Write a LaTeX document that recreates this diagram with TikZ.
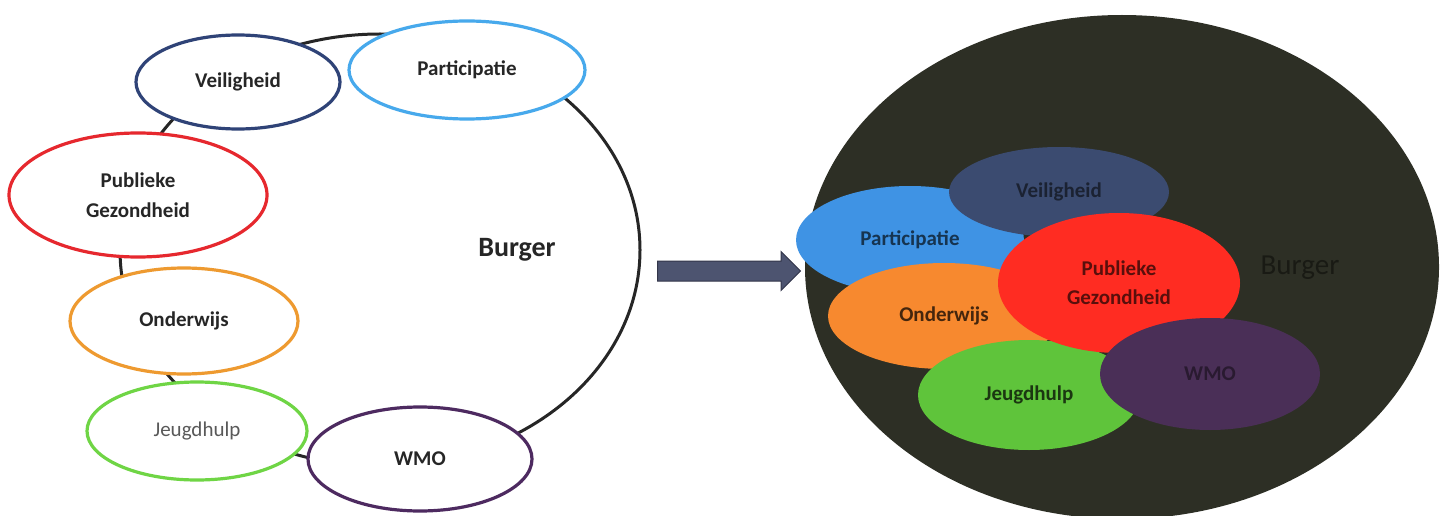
\documentclass[tikz,border=0pt]{standalone}
\usepackage{fontspec}
\setmainfont{Carlito}
\usetikzlibrary{shapes.geometric,shapes.arrows}

\definecolor{veilig}{HTML}{2F4377}
\definecolor{partic}{HTML}{47A9EC}
\definecolor{gezond}{HTML}{E6282E}
\definecolor{onderw}{HTML}{EE9A30}
\definecolor{jeugd}{HTML}{6FD545}
\definecolor{wmo}{HTML}{4D2A60}
\definecolor{veiligfill}{HTML}{3B4B70}
\definecolor{particfill}{HTML}{3F93E4}
\definecolor{gezondfill}{HTML}{FF2C22}
\definecolor{onderwfill}{HTML}{F7892F}
\definecolor{jeugdfill}{HTML}{5FC43B}
\definecolor{wmofill}{HTML}{4A2F57}
\definecolor{burgerfill}{HTML}{2D2F25}
\definecolor{pijlfill}{HTML}{4D5470}
\definecolor{pijledge}{HTML}{33364A}

\tikzset{
  ring/.style={ellipse, draw=#1, line width=3.2pt, fill=white, inner sep=0pt, align=center,
    text=black!85, font=\fontsize{21}{30}\selectfont\bfseries},
  blob/.style={ellipse, fill=#1, inner sep=0pt, align=center,
    font=\fontsize{21}{29}\selectfont\bfseries}
}

\begin{document}
\begin{tikzpicture}[x=1pt, y=-1pt]
\useasboundingbox[fill=white] (0,0) rectangle (1447,516);

% left circle
\draw[line width=3pt, black!85] (380,250) ellipse [x radius=260, y radius=216];
\path (517,250) node[font=\fontsize{28}{32}\selectfont\bfseries, text=black!85] (burgerL) {Burger};

\node[ring=veilig, minimum width=204, minimum height=94] (veiligL) at (238,82) {Veiligheid};
\node[ring=partic, minimum width=236, minimum height=98] (particL) at (467,70) {Participatie};
\node[ring=gezond, minimum width=258, minimum height=124] (gezondL) at (138,195) {Publieke\\Gezondheid};
\node[ring=onderw, minimum width=228, minimum height=106] (onderwL) at (184,321) {Onderwijs};
\node[ring=jeugd, minimum width=220, minimum height=98, font=\fontsize{21}{30}\selectfont, text=black!65] (jeugdL) at (197,431) {Jeugdhulp};
\node[ring=wmo, minimum width=224, minimum height=104] (wmoL) at (420,459) {WMO};

% arrow
\node[single arrow, draw=pijledge, fill=pijlfill, line width=1pt, inner sep=9.5pt,
  single arrow head extend=9.5pt, minimum height=143, anchor=west] (pijl) at (657,271) {};

% right circle
\fill[burgerfill] (1122,267) ellipse [x radius=317, y radius=252];
\path (1300,268) node[font=\fontsize{29}{32}\selectfont, text=burgerfill!55!black] (burgerR) {Burger};

\node[blob=particfill, minimum width=228, minimum height=108, text=particfill!35!black] (particR) at (910,240) {Participatie};
\node[blob=veiligfill, minimum width=220, minimum height=90, text=veiligfill!45!black] (veiligR) at (1059,192) {Veiligheid};
\node[blob=onderwfill, minimum width=232, minimum height=106, text=onderwfill!28!black] (onderwR) at (944,316) {Onderwijs};
\node[blob=jeugdfill, minimum width=222, minimum height=110, text=jeugdfill!28!black] (jeugdR) at (1029,395) {Jeugdhulp};
\node[blob=gezondfill, minimum width=242, minimum height=140, text=gezondfill!35!black] (gezondR) at (1119,283) {Publieke\\Gezondheid};
\node[blob=wmofill, minimum width=220, minimum height=112, text=wmofill!55!black] (wmoR) at (1210,374) {WMO};

\end{tikzpicture}
\end{document}
